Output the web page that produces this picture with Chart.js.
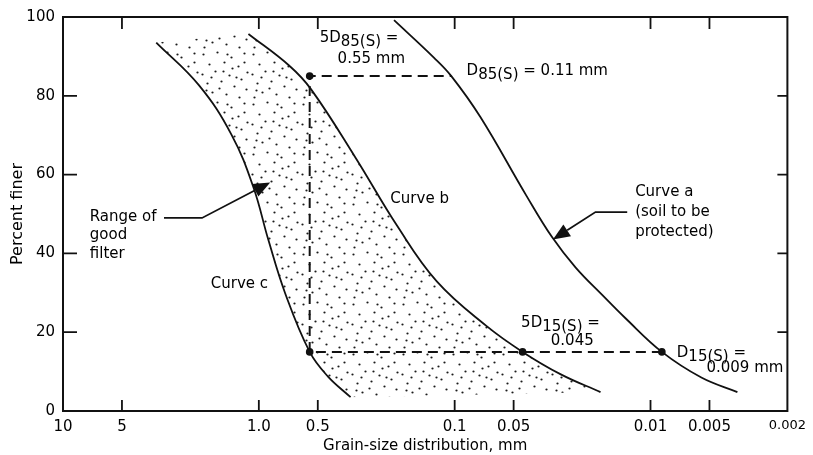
<!DOCTYPE html>
<html><head><meta charset="utf-8">
<script src="https://cdn.jsdelivr.net/npm/chart.js@4.4.1/dist/chart.umd.min.js"></script>
<style>html,body{margin:0;padding:0;background:#fff}#wrap{width:813px;height:455px;position:relative}</style>
</head><body><div id="wrap"><canvas id="c"></canvas></div>
<script>
// ---- axis ticks ----
const xTickValues = [10, 5, 1, 0.5, 0.1, 0.05, 0.01, 0.005, 0.002];
const xTickLabels = ['10', '5', '1.0', '0.5', '0.1', '0.05', '0.01', '0.005', '0.002'];
const yTickValues = [0, 20, 40, 60, 80, 100];

// ---- curve a (soil to be protected): grain size (mm) / percent finer ----
const curveASize = [0.0036, 0.0055, 0.00875, 0.01346, 0.0176, 0.0241, 0.0319, 0.0432, 0.0739, 0.104, 0.1277, 0.204];
const curveAPct  = [4.8, 8.5, 15, 23.6, 29.4, 36.4, 44.2, 54.8, 74.6, 85, 89.7, 99.2];
// ---- curve b ----
const curveBSize = [0.018, 0.0287, 0.045, 0.0689, 0.1234, 0.1967, 0.3208, 0.542, 0.701, 1.13];
const curveBPct  = [4.8, 9.3, 15, 21.6, 32.9, 47.0, 64.3, 81.7, 87.7, 95.7];
// ---- curve c ----
const curveCSize = [0.34, 0.4446, 0.55, 0.734, 0.895, 1.066, 1.378, 2.024, 3.34];
const curveCPct  = [3.5, 8.8, 15, 29.9, 43.5, 56.8, 70.1, 82.7, 93.5];
// ---- construction (dashed) lines ----
const guideSize = [0.00875, 0.55, 0.55, 0.104];
const guidePct  = [15, 15, 85, 85];
// ---- marked points ----
const markerSize = [0.55, 0.045, 0.00875, 0.55];
const markerPct  = [15, 15, 15, 85];

const toXY = (xs, ys) => xs.map((v, i) => ({x: v, y: ys[i]}));

// stipple pattern (style only)
function makeStipple() {
  const c = document.createElement('canvas');
  c.width = 50; c.height = 50;
  const g = c.getContext('2d');
  g.fillStyle = '#1c1c1c';
  const dots = [[3,4],[17,2],[31,7],[44,3],[9,14],[24,12],[38,16],[47,22],[2,24],[15,21],[29,25],[41,29],[7,33],[21,31],[34,36],[46,39],[12,42],[26,44],[39,47],[4,47],[19,38],[32,18],[11,27],[44,12],[27,4],[36,27],[23,21],[6,40]];
  dots.forEach(([x, y]) => { g.beginPath(); g.arc(x + 0.5, y + 0.5, 1.1, 0, Math.PI * 2); g.fill(); });
  return g.createPattern(c, 'repeat');
}

const FONT = "'DejaVu Sans', 'Open Sans', sans-serif";
Chart.defaults.font.family = FONT;
Chart.defaults.font.weight = 'normal';
Chart.defaults.color = '#000';

// text annotations (anchored in data units)
const notes = [
  {x: 0.489, y: 94.7, runs: [['5D', 0], ['85(S)', 4], [' =', 0]]},
  {x: 0.396, y: 89.2, runs: [['0.55 mm', 0]]},
  {x: 0.0869, y: 86.2, runs: [['D', 0], ['85(S)', 4], [' = 0.11 mm', 0]]},
  {x: 0.213, y: 53.8, runs: [['Curve b', 0]]},
  {x: 0.01198, y: 55.5, runs: [['Curve a', 0]]},
  {x: 0.01198, y: 50.5, runs: [['(soil to be', 0]]},
  {x: 0.01198, y: 45.5, runs: [['protected)', 0]]},
  {x: 7.30, y: 49.2, runs: [['Range of', 0]]},
  {x: 7.30, y: 44.7, runs: [['good', 0]]},
  {x: 7.30, y: 39.9, runs: [['filter', 0]]},
  {x: 1.76, y: 32.2, runs: [['Curve c', 0]]},
  {x: 0.0458, y: 22.4, runs: [['5D', 0], ['15(S)', 4], [' =', 0]]},
  {x: 0.0323, y: 17.8, runs: [['0.045', 0]]},
  {x: 0.00734, y: 14.8, runs: [['D', 0], ['15(S)', 4], [' =', 0]]},
  {x: 0.00518, y: 10.8, runs: [['0.009 mm', 0]]}
];
const arrows = [
  [[3.05, 49], [1.95, 49], [0.875, 58]],
  [[0.01315, 50.5], [0.0191, 50.5], [0.0315, 43.5]]
];

const framePlugin = {
  id: 'frame',
  afterDraw(chart) {
    const {ctx, chartArea: a, scales: {x, y}} = chart;
    ctx.save();
    ctx.strokeStyle = '#111';
    ctx.lineWidth = 2;
    ctx.strokeRect(a.left, a.top, a.right - a.left, a.bottom - a.top);
    ctx.lineWidth = 1.8;
    ctx.beginPath();
    xTickValues.forEach(v => {
      if (v === 10 || v === 0.002) return;
      const px = x.getPixelForValue(v);
      ctx.moveTo(px, a.bottom); ctx.lineTo(px, a.bottom - 11);
      ctx.moveTo(px, a.top); ctx.lineTo(px, a.top + 12);
    });
    yTickValues.forEach(v => {
      if (v === 0 || v === 100) return;
      const py = y.getPixelForValue(v);
      ctx.moveTo(a.left, py); ctx.lineTo(a.left + 14, py);
      ctx.moveTo(a.right, py); ctx.lineTo(a.right - 10, py);
    });
    ctx.stroke();

    // annotations
    ctx.fillStyle = '#000';
    ctx.textBaseline = 'middle';
    ctx.textAlign = 'left';
    ctx.font = `15px ${FONT}`;
    notes.forEach(n => {
      let px = x.getPixelForValue(n.x);
      const py = y.getPixelForValue(n.y);
      n.runs.forEach(([t, dy]) => {
        ctx.fillText(t, px, py + dy);
        px += ctx.measureText(t).width;
      });
    });
    // arrows
    ctx.fillStyle = '#111';
    ctx.lineWidth = 1.8;
    arrows.forEach(pts => {
      const p = pts.map(([vx, vy]) => [x.getPixelForValue(vx), y.getPixelForValue(vy)]);
      const [tx, ty] = p[p.length - 1];
      const [sx, sy] = p[p.length - 2];
      const ang = Math.atan2(ty - sy, tx - sx);
      const L = 17, W = 7;
      const bx = tx - L * Math.cos(ang), by = ty - L * Math.sin(ang);
      ctx.beginPath();
      ctx.moveTo(p[0][0], p[0][1]);
      for (let i = 1; i < p.length - 1; i++) ctx.lineTo(p[i][0], p[i][1]);
      ctx.lineTo(bx, by);
      ctx.stroke();
      ctx.beginPath();
      ctx.moveTo(tx, ty);
      ctx.lineTo(bx + W * Math.sin(ang), by - W * Math.cos(ang));
      ctx.lineTo(bx - W * Math.sin(ang), by + W * Math.cos(ang));
      ctx.closePath();
      ctx.fill();
    });
    ctx.restore();
  }
};

const curveStyle = {borderColor: '#111', borderWidth: 1.8, pointRadius: 0, tension: 0.4, fill: false};

new Chart(document.getElementById('c'), {
  type: 'line',
  data: {
    datasets: [
      {label: 'points', data: toXY(markerSize, markerPct), showLine: false, pointRadius: 3.8, pointBackgroundColor: '#111', pointBorderColor: '#111', borderWidth: 0},
      {label: 'guide', data: toXY(guideSize, guidePct), borderColor: '#111', borderWidth: 2, borderDash: [10, 6], pointRadius: 0, tension: 0, fill: false},
      {label: 'Curve a', data: toXY(curveASize, curveAPct), ...curveStyle},
      {label: 'Curve b', data: toXY(curveBSize, curveBPct), ...curveStyle},
      {label: 'Curve c', data: toXY(curveCSize, curveCPct), ...curveStyle, fill: '-1', backgroundColor: makeStipple()}
    ]
  },
  options: {
    responsive: true,
    maintainAspectRatio: false,
    animation: false,
    indexAxis: 'y',
    layout: {padding: {top: 13, right: 21, left: 0, bottom: 0}},
    plugins: {legend: {display: false}, tooltip: {enabled: false}},
    scales: {
      x: {
        type: 'logarithmic',
        reverse: true,
        min: 0.002,
        max: 10,
        grid: {display: false, drawTicks: false},
        border: {display: false},
        afterBuildTicks: s => { s.ticks = xTickValues.map(v => ({value: v})); },
        afterFit: s => { s.height = 44; },
        ticks: {
          autoSkip: false, maxRotation: 0, minRotation: 0, padding: 7, color: '#000',
          font: c => (c.tick && c.tick.value === 0.002) ? {size: 13} : {size: 15},
          callback: v => { const i = xTickValues.findIndex(t => Math.abs(t - v) < t * 1e-6); return i >= 0 ? xTickLabels[i] : ''; }
        },
        title: {display: true, text: 'Grain-size distribution, mm', color: '#000', font: {size: 15}, padding: {top: 0, bottom: 0}}
      },
      y: {
        type: 'linear',
        min: 0,
        max: 100,
        grid: {display: false, drawTicks: false},
        border: {display: false},
        afterBuildTicks: s => { s.ticks = yTickValues.map(v => ({value: v})); },
        afterFit: s => { s.width = 63; },
        ticks: {padding: 8, color: '#000', font: {size: 15}},
        title: {display: true, text: 'Percent finer', color: '#000', font: {size: 16}, padding: {top: 8, bottom: 0}}
      }
    }
  },
  plugins: [framePlugin]
});
</script>
</body></html>
